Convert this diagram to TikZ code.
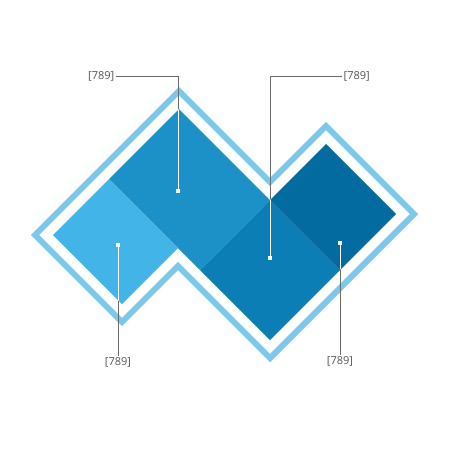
\documentclass[tikz,border=0pt]{standalone}
\usepackage{fontspec}
\setmainfont{Open Sans}
\usetikzlibrary{positioning, calc}
\definecolor{frameblue}{HTML}{7BC8EC}
\definecolor{tileA}{HTML}{42B4E8}
\definecolor{tileB}{HTML}{1C91C8}
\definecolor{tileC}{HTML}{0B7EB5}
\definecolor{tileD}{HTML}{036B9F}
\definecolor{leadgray}{HTML}{6A6A6A}

\begin{document}
\begin{tikzpicture}[x=1pt,y=-1pt]
    \tikzset{leader/.style={draw=leadgray,line width=0.8pt},
      leaderin/.style={draw=white,line width=0.9pt},
      dot/.style={fill=white,inner sep=0pt,minimum size=3.4pt},
      lab/.style={text=leadgray!80!black,font=\fontsize{11}{13}\selectfont,inner sep=1.5pt}}
    \def\off{18}
    \useasboundingbox (0,0) rectangle (450,450);

    % corners of the tiles
    \coordinate (V) at (270,200);
    \coordinate (Bt) at (179,109);
    \coordinate (Bl) at (109,179);
    \coordinate (Bb) at (200,270);
    \coordinate (Al) at (53,235);
    \coordinate (Ar) at (178,248);
    \coordinate (Ab) at (122,304);
    \coordinate (Cr) at (340,270);
    \coordinate (Cb) at (270,340);
    \coordinate (Dt) at (326,144);
    \coordinate (Dr) at (396,214);

    % frame round the tiles
    \draw[frameblue,line width=6pt,line join=miter]
      ($(Al)-(\off,0)$) -- ($(Bt)-(0,\off)$) -- ($(V)-(0,\off)$) -- ($(Dt)-(0,\off)$)
      -- ($(Dr)+(\off,0)$) -- ($(Cb)+(0,\off)$) -- ($(Ar)+(0,\off)$) -- ($(Ab)+(0,\off)$) -- cycle;

    % points and labels
    \coordinate (p1) at (178,191);
    \coordinate (p2) at (270,258);
    \coordinate (p3) at (118,245);
    \coordinate (p4) at (340,243);
    \node[lab,anchor=east] (l1) at (116,76) {[789]};
    \node[lab,anchor=west] (l2) at (342,76) {[789]};
    \node[lab,anchor=north] (l3) at (118,356) {[789]};
    \node[lab,anchor=north] (l4) at (340,355) {[789]};

    \draw[leader] (p1) |- (l1.east);
    \draw[leader] (p2) |- (l2.west);
    \draw[leader] (p3) -- (l3.north);
    \draw[leader] (p4) -- (l4.north);

    \fill[tileB] (Bl) -- (Bt) -- (V) -- (Bb) -- cycle;
    \fill[tileA] (Al) -- (Bl) -- (Ar) -- (Ab) -- cycle;
    \fill[tileC] (V) -- (Cr) -- (Cb) -- (Bb) -- cycle;
    \fill[tileD] (V) -- (Dt) -- (Dr) -- (Cr) -- cycle;

    % white where the leaders cross the tiles
    \begin{scope}
      \clip (Al) -- (Bt) -- (V) -- (Dt) -- (Dr) -- (Cb) -- (Ar) -- (Ab) -- cycle;
      \draw[leaderin] (p1) |- (l1.east);
      \draw[leaderin] (p2) |- (l2.west);
      \draw[leaderin] (p3) -- (l3.north);
      \draw[leaderin] (p4) -- (l4.north);
    \end{scope}

    \node[dot] (d1) at (p1) {};
    \node[dot] (d2) at (p2) {};
    \node[dot] (d3) at (p3) {};
    \node[dot] (d4) at (p4) {};
\end{tikzpicture}
\end{document}
